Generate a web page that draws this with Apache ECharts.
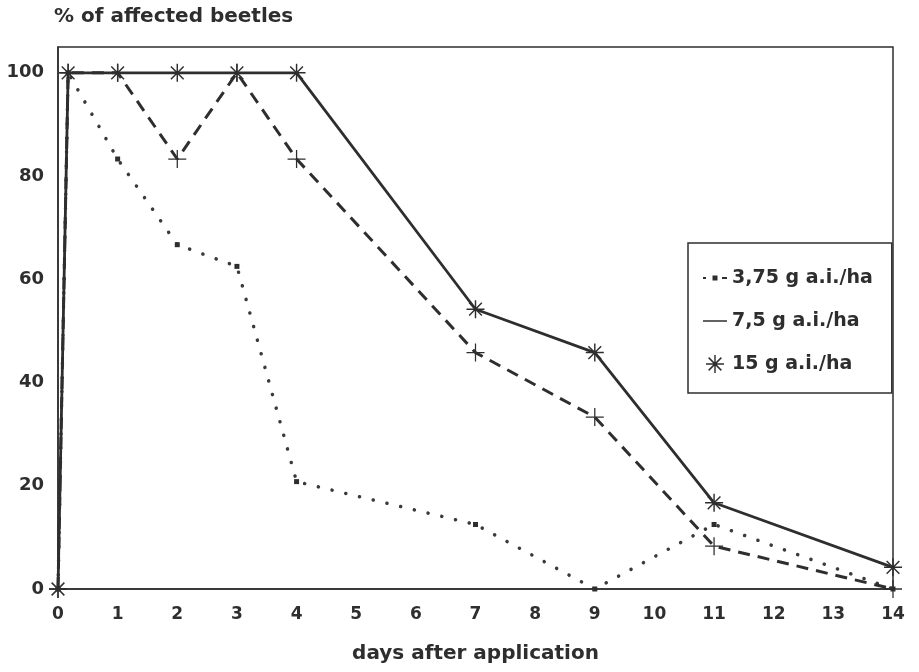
<!DOCTYPE html>
<html>
<head>
<meta charset="utf-8">
<script src="https://cdn.jsdelivr.net/npm/echarts@6/dist/echarts.min.js"></script>
<style>
  html, body { margin: 0; padding: 0; background: #fff; }
  #chart { width: 919px; height: 672px; }
</style>
</head>
<body>
<div id="chart"></div>
<script>
// Days after application (0.17 = a few hours after spraying)
const days = [0, 0.17, 1, 2, 3, 4, 7, 9, 11, 14];

// % of affected beetles per dose
const dose375 = [0, 100, 83.3, 66.7, 62.5, 20.8, 12.5, 0, 12.5, 0];
const dose75  = [0, 100, 100, 83.3, 100, 83.3, 45.8, 33.3, 8.3, 0];
const dose15  = [0, 100, 100, 100, 100, 100, 54.2, 45.8, 16.7, 4.2];

const seriesNames = ['3,75 g a.i./ha', '7,5 g a.i./ha', '15 g a.i./ha'];
const xAxisTitle = 'days after application';
const yAxisTitle = '% of affected beetles';

const INK = '#2e2e2e';
const FONT = 'DejaVu Sans';

// Marker shapes (filled thin bars, all wound the same way)
const ASTERISK = 'path://M-1 -0.08 L1 -0.08 L1 0.08 L-1 0.08 Z ' +
  'M-0.08 -1 L0.08 -1 L0.08 1 L-0.08 1 Z ' +
  'M-0.764 -0.65 L-0.65 -0.764 L0.764 0.65 L0.65 0.764 Z ' +
  'M0.65 -0.764 L0.764 -0.65 L-0.65 0.764 L-0.764 0.65 Z';
const PLUS = 'path://M-1 -0.07 L1 -0.07 L1 0.07 L-1 0.07 Z M-0.07 -1 L0.07 -1 L0.07 1 L-0.07 1 Z';

// Legend keys
const KEY_DOTTED = 'path://M0 2 L3 2 L3 4 L0 4 Z M9.5 0.5 L14.5 0.5 L14.5 5.5 L9.5 5.5 Z M19 2 L24 2 L24 4 L19 4 Z';
const KEY_LINE = 'path://M0 0 L24 0 L24 1.5 L0 1.5 Z';

const pairs = vals => days.map((d, i) => [d, vals[i]]);

const chart = echarts.init(document.getElementById('chart'), null, { renderer: 'canvas' });

chart.setOption({
  animation: false,
  backgroundColor: '#fff',
  title: {
    text: yAxisTitle,
    left: 54,
    top: 7,
    padding: 0,
    textStyle: { fontFamily: FONT, fontWeight: 'bold', fontSize: 20, color: INK }
  },
  grid: {
    left: 58, right: 26, top: 47, bottom: 83,
    show: true, borderColor: INK, borderWidth: 1.5, backgroundColor: 'transparent'
  },
  legend: {
    orient: 'vertical',
    left: 688,
    top: 243,
    padding: [24, 19, 18, 15],
    itemGap: 21,
    itemWidth: 24,
    itemHeight: 18,
    symbolKeepAspect: true,
    backgroundColor: '#fff',
    borderColor: INK,
    borderWidth: 1.5,
    itemStyle: { borderWidth: 0 },
    textStyle: { fontFamily: FONT, fontWeight: 'bold', fontSize: 19, color: INK, lineHeight: 22 },
    data: [
      { name: seriesNames[0], icon: KEY_DOTTED },
      { name: seriesNames[1], icon: KEY_LINE },
      { name: seriesNames[2], icon: ASTERISK }
    ]
  },
  xAxis: {
    type: 'value',
    min: 0, max: 14, interval: 1,
    name: xAxisTitle,
    nameLocation: 'middle',
    nameGap: 55,
    nameTextStyle: { fontFamily: FONT, fontWeight: 'bold', fontSize: 20, color: INK },
    axisLine: { show: true, lineStyle: { color: INK, width: 1.5 } },
    axisTick: { show: false },
    splitLine: { show: false },
    axisLabel: { margin: 17, fontFamily: FONT, fontWeight: 'bold', fontSize: 17, color: INK }
  },
  yAxis: {
    type: 'value',
    min: 0, max: 105, interval: 20,
    axisLine: { show: true, lineStyle: { color: INK, width: 1.5 } },
    axisTick: { show: false },
    splitLine: { show: false },
    axisLabel: {
      margin: 14, fontFamily: FONT, fontWeight: 'bold', fontSize: 18, color: INK,
      formatter: v => (v % 20 === 0 ? String(v) : '')
    }
  },
  series: [
    {
      name: seriesNames[0],
      type: 'line',
      data: pairs(dose375),
      symbol: 'rect',
      symbolSize: 5,
      itemStyle: { color: INK, borderWidth: 0 },
      lineStyle: { color: '#3a3a3a', width: 3.5, type: [0.1, 14], cap: 'round' },
      z: 2
    },
    {
      name: seriesNames[1],
      type: 'line',
      data: pairs(dose75),
      symbol: PLUS,
      symbolSize: 18,
      itemStyle: { color: INK, borderWidth: 0 },
      lineStyle: { color: INK, width: 3, type: [12, 8] },
      z: 3
    },
    {
      name: seriesNames[2],
      type: 'line',
      data: pairs(dose15),
      symbol: ASTERISK,
      symbolSize: 18,
      itemStyle: { color: INK, borderWidth: 0 },
      lineStyle: { color: INK, width: 2.8, type: 'solid' },
      z: 4
    }
  ]
});
</script>
</body>
</html>
